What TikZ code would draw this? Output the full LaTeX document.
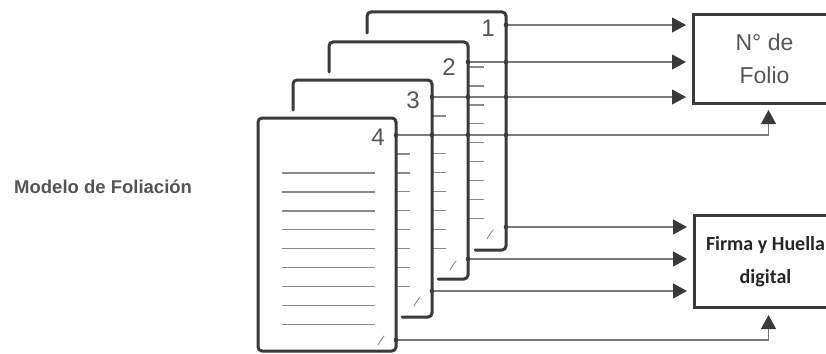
\documentclass[tikz,border=0pt]{standalone}
\usepackage{fontspec}
\setmainfont{Liberation Sans}
\newfontfamily\calib{Carlito}
\usetikzlibrary{arrows.meta}
\definecolor{ink}{HTML}{3A3A3A}
\definecolor{wirec}{HTML}{7A7A7A}
\definecolor{txt}{HTML}{555555}
\definecolor{rulec}{HTML}{8A8A8A}
\begin{document}
\begin{tikzpicture}[x=1pt,y=-1pt,
  pageedge/.style={draw=ink,line width=3pt,rounded corners=4pt,line cap=round},
  ruling/.style={draw=rulec,line width=1.4pt},
  wire/.style={draw=wirec,line width=1.1pt},
  conn/.style={wire,-{Triangle[length=14pt,width=15pt,color=ink]}},
  dot/.style={circle,fill=ink,inner sep=0pt,minimum size=4.6pt},
  numtxt/.style={text=txt,font=\fontsize{24}{26}\selectfont,inner sep=0pt},
  box/.style={draw=ink,line width=3pt,fill=white,inner sep=0pt,align=center,anchor=north west},
  sig/.style={draw=rulec,line width=0.9pt,line cap=round}
]
\useasboundingbox (0,0) rectangle (826,353);
\clip (0,0) rectangle (826,353);
\fill[white] (0,0) rectangle (826,353);

% title
\node[anchor=west,text=txt,font=\bfseries\fontsize{18.5}{22}\selectfont,inner sep=0pt] (title) at (14,187) {Modelo de Foliación};

% page 1 (back)
\fill[white] (367,12) rectangle (506,250);
\foreach \k in {0,...,8} \draw[ruling] (391,{67+18.9*\k}) -- (484,{67+18.9*\k});
\draw[pageedge] (367,33) -- (367,12) -- (506,12) -- (506,250) -- (475,250);
\draw[sig] (487,239) .. controls (489,235) and (491,233) .. (493,230);
\node[numtxt] (n1) at (488,28) {1};

% page 2
\fill[white] (329,42) rectangle (468,279);
\foreach \k in {0,...,8} \draw[ruling] (353,{97+18.9*\k}) -- (446,{97+18.9*\k});
\draw[pageedge] (329,72) -- (329,42) -- (468,42) -- (468,279) -- (438,279);
\draw[sig] (450,270) .. controls (452,266) and (454,264) .. (456,261);
\node[numtxt] (n2) at (449,67) {2};

% page 3
\fill[white] (293,80) rectangle (432,317);
\foreach \k in {0,...,8} \draw[ruling] (317,{135+18.9*\k}) -- (410,{135+18.9*\k});
\draw[pageedge] (293,110) -- (293,80) -- (432,80) -- (432,317) -- (402,317);
\draw[sig] (414,306) .. controls (416,302) and (418,300) .. (420,297);
\node[numtxt] (n3) at (413,100) {3};

% page 4 (front)
\fill[white] (258,118) rectangle (396,351);
\foreach \k in {0,...,8} \draw[ruling] (282,{173+18.9*\k}) -- (375,{173+18.9*\k});
\draw[pageedge] (258,118) rectangle (396,351);
\draw[sig] (378,345) .. controls (380,341) and (382,339) .. (384,336);
\node[numtxt] (n4) at (378,137) {4};

% boxes
\node[box,minimum width=142pt,minimum height=89pt,text=txt,font=\fontsize{23}{33}\selectfont] (folio) at (692,13) {N° de\\Folio};
\node[box,minimum width=142pt,minimum height=92pt,text=black!85,font=\calib\bfseries\fontsize{20}{33}\selectfont] (firma) at (693,214) {Firma y Huella\\digital};

% start points
\coordinate (a1) at (506,25);
\coordinate (a2) at (468,62);
\coordinate (a3) at (432,97);
\coordinate (a4) at (396,135);
\coordinate (b1) at (506,227);
\coordinate (b2) at (468,259);
\coordinate (b3) at (432,291);
\coordinate (b4) at (396,340);

% upper connectors
\draw[conn,shorten >=6pt] (a1) -- (a1 -| folio.west);
\draw[conn,shorten >=6pt] (a2) -- (a2 -| folio.west);
\draw[conn,shorten >=6pt] (a3) -- (a3 -| folio.west);
\draw[conn,shorten >=5pt] (a4) -| ([xshift=4pt]folio.south);

% lower connectors
\draw[conn,shorten >=6pt] (b1) -- (b1 -| firma.west);
\draw[conn,shorten >=6pt] (b2) -- (b2 -| firma.west);
\draw[conn,shorten >=6pt] (b3) -- (b3 -| firma.west);
\draw[conn,shorten >=6pt] (b4) -| ([xshift=3pt]firma.south);

% junction dots
\foreach \p in {(506,25),(468,62),(506,62),(432,97),(468,97),(506,97),(396,135),(432,135),(468,135),(506,135),(506,227),(468,259),(432,291),(396,340)}
  \node[dot] at \p {};
\end{tikzpicture}
\end{document}
